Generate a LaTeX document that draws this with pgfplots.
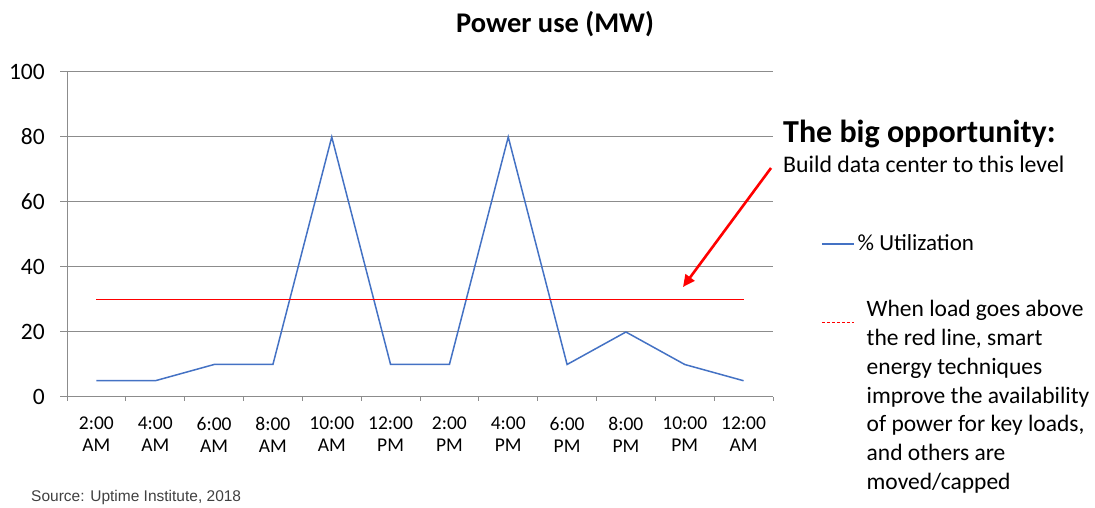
\documentclass[border=0pt]{standalone}
\usepackage{pgfplots}
\pgfplotsset{compat=1.18}
\usepackage{fontspec}
\setmainfont{Carlito}
\newfontfamily\srcfont{Liberation Sans}
\usetikzlibrary{arrows.meta}
\definecolor{serblue}{HTML}{4472C4}
\definecolor{gridgray}{HTML}{8C8C8C}
\pgfplotsset{
  legup/.style={legend image code/.code={\draw[##1] (0pt,-1pt) -- (32pt,-1pt);}},
  legdown/.style={legend image code/.code={\draw[##1, dash pattern=on 3.2pt off 1.8pt] (0pt,-13pt) -- (32pt,-13pt);}},
}
\begin{document}
\begin{tikzpicture}[x=1pt,y=1pt]
\path[use as bounding box] (0,0) rectangle (1095,508);
\begin{axis}[
  at={(67pt,111pt)}, anchor=south west,
  scale only axis, width=706pt, height=325pt,
  xmin=-0.5, xmax=11.5, ymin=0, ymax=100,
  clip=false,
  axis x line*=bottom, axis y line*=left,
  axis line style={gridgray, line width=1pt},
  ytick={0,20,...,100},
  ymajorgrids, major grid style={gridgray, line width=1pt},
  xtick={0,...,11},
  xticklabels={{2:00\\AM},{4:00\\AM},{6:00\\AM},{8:00\\AM},{10:00\\AM},{12:00\\PM},{2:00\\PM},{4:00\\PM},{6:00\\PM},{8:00\\PM},{10:00\\PM},{12:00\\AM}},
  minor xtick={-0.5,0.5,...,11.5},
  tick align=outside,
  major x tick style={draw=none},
  minor x tick style={gridgray, line width=1pt},
  minor tick length=4pt,
  major y tick style={gridgray, line width=1pt},
  major tick length=7pt,
  /pgf/number format/assume math mode=true,
  yticklabel style={font=\fontsize{23.5}{27}\selectfont, inner sep=0pt, xshift=-15pt},
  xticklabel style={font=\fontsize{19.5}{22}\selectfont, align=center, inner sep=0pt, yshift=-13pt},
  legend style={at={(1.068,0.5015)}, anchor=north west, draw=none, fill=none, inner sep=0pt,
    row sep=49pt, font=\fontsize{23}{28.7}\selectfont, nodes={inner sep=0pt}},
  legend cell align=left,
]
\addplot[draw=serblue, line width=1.5pt, legup]
  coordinates {(0,5) (1,5) (2,10) (3,10) (4,80) (5,10) (6,10) (7,80) (8,10) (9,20) (10,10) (11,5)};
\addlegendentry{\hspace{3pt}\% Utilization}
\addplot[draw=red, line width=1.3pt, legdown]
  coordinates {(0,30) (11,30)};
\addlegendentry{\hspace{12pt}\parbox[t]{240pt}{\raggedright\fontsize{23.5}{28.7}\selectfont When load goes above\\the red line, smart\\energy techniques\\improve the availability\\of power for key loads,\\and others are\\moved/capped}}
\end{axis}
\node[anchor=base, font=\bfseries\fontsize{28.5}{34}\selectfont] at (555,475) {Power use (MW)};
\node[anchor=base west, inner sep=0pt, font=\bfseries\fontsize{32}{38}\selectfont] at (783,365) {The big opportunity:};
\node[anchor=base west, inner sep=0pt, font=\fontsize{23.8}{28}\selectfont] at (783,335) {Build data center to this level};
\draw[red, line width=2.6pt, -{Triangle[length=12pt,width=11pt]}] (771,340) -- (683,221);
\node[anchor=base west, inner sep=0pt, text=black!75, font=\srcfont\fontsize{15.5}{18}\selectfont] at (31,6.5) {Source: Uptime Institute, 2018};
\end{tikzpicture}
\end{document}
